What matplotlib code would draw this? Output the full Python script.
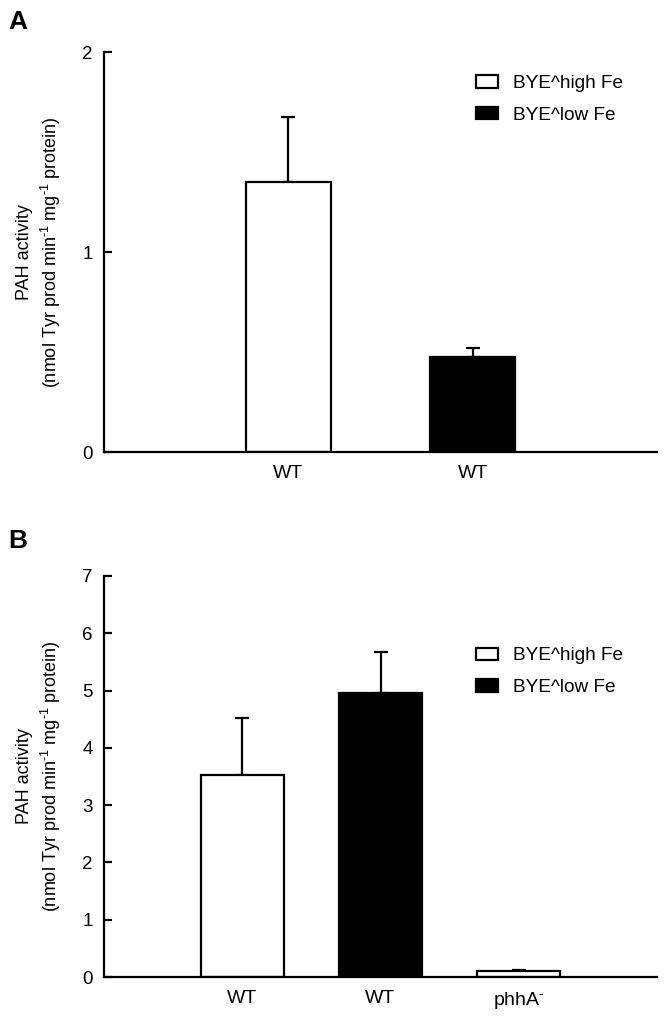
import numpy as np
import matplotlib
matplotlib.use("Agg")
import matplotlib.pyplot as plt

plt.rcParams['font.family'] = ['Liberation Sans', 'DejaVu Sans']
plt.rcParams['mathtext.fontset'] = 'custom'
plt.rcParams['mathtext.rm'] = 'Liberation Sans'
plt.rcParams['mathtext.it'] = 'Liberation Sans'

# panel A
a_labels = ["WT", "WT"]
a_vals = [1.35, 0.475]
a_err = [0.325, 0.045]
a_colors = ["white", "black"]

# panel B
b_labels = ["WT", "WT", "phhA$^{\u2010}$"]
b_vals = [3.52, 4.95, 0.10]
b_err = [1.0, 0.72, 0.02]
b_colors = ["white", "black", "white"]

legend_names = ["BYE^high Fe", "BYE^low Fe"]
ylab = "PAH activity\n(nmol Tyr prod min$^{\u20101}$ mg$^{\u20101}$ protein)"

fig = plt.figure(figsize=(6.65, 10.28), dpi=100)
axA = fig.add_axes([0.1564, 0.5603, 0.8316, 0.3891])
axB = fig.add_axes([0.1564, 0.0496, 0.8316, 0.3901])

def draw(ax, labels, vals, err, colors, width, ymax, yticks, leg_top):
    x = np.arange(1, len(vals) + 1)
    bars = ax.bar(x, vals, width=width, color=colors, edgecolor="black",
                  linewidth=1.6, zorder=2)
    ax.errorbar(x, vals, yerr=[np.zeros(len(err)), err], fmt="none",
                ecolor="black", elinewidth=1.6, capsize=5, capthick=1.6, zorder=1)
    ax.set_xlim(0, len(vals) + 1)
    ax.set_ylim(0, ymax)
    ax.set_yticks(yticks)
    ax.set_xticks(x)
    ax.set_xticklabels(labels, fontsize=14)
    for s in ["top", "right"]:
        ax.spines[s].set_visible(False)
    for s in ["left", "bottom"]:
        ax.spines[s].set_linewidth(1.6)
    ax.tick_params(axis="y", direction="in", length=6, width=1.6, labelsize=13.5, pad=8)
    ax.tick_params(axis="x", length=0, pad=9)
    ax.set_ylabel(ylab, fontsize=13, linespacing=1.3)
    ax.yaxis.set_label_coords(-0.075, 0.5)
    ax.legend([bars[0], bars[1]], legend_names, loc="upper left",
              bbox_to_anchor=(0.672, leg_top), frameon=False, fontsize=13.7,
              handlelength=1.2, handleheight=0.6, handletextpad=0.75,
              labelspacing=0.78, borderpad=0, borderaxespad=0)
    return ax

draw(axA, a_labels, a_vals, a_err, a_colors, 0.46, 2, [0, 1, 2], 0.942)
draw(axB, b_labels, b_vals, b_err, b_colors, 0.6, 7, range(8), 0.822)

fig.text(0.012, 0.979, "A", fontsize=19, fontweight="bold", va="center")
fig.text(0.012, 0.474, "B", fontsize=19, fontweight="bold", va="center")

fig.savefig("out.png", dpi=100)
